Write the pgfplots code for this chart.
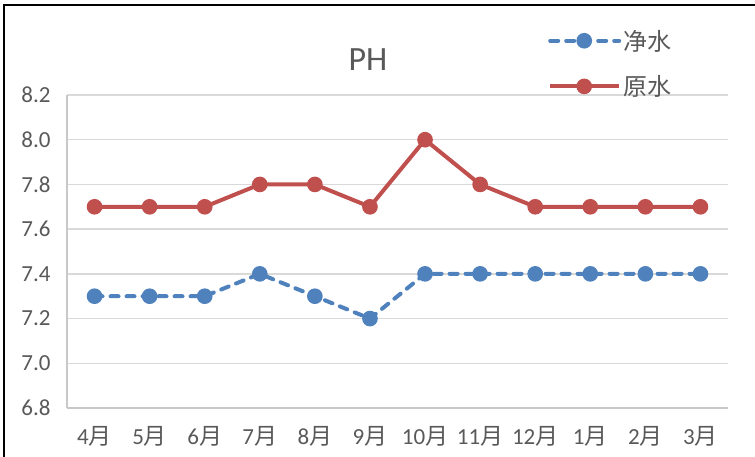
\documentclass[border=0pt]{standalone}
\usepackage{fontspec}
\setmainfont{Carlito}
\newfontfamily\cjk{Noto Sans CJK SC}
\usepackage{pgfplots}
\pgfplotsset{compat=1.18}
\definecolor{tc}{HTML}{595959}
\definecolor{gc}{HTML}{D9D9D9}
\definecolor{ac}{HTML}{C8C8C8}
\definecolor{bl}{HTML}{4F81BD}
\definecolor{rd}{HTML}{C0504D}
\begin{document}
\begin{tikzpicture}[x=1pt,y=1pt]
\useasboundingbox (0,0) rectangle (755,456);
\draw[line width=2pt] (4,-5) -- (4,451) -- (760,451);
\node[text=tc, font=\fontsize{34}{34}\selectfont] at (368,396) {PH};
\begin{axis}[
  at={(67pt,48pt)}, anchor=south west,
  scale only axis, width=661pt, height=313pt,
  xmin=-0.5, xmax=11.5, ymin=6.8, ymax=8.2,
  xtick={0,...,11},
  xticklabels={4{\cjk 月},5{\cjk 月},6{\cjk 月},7{\cjk 月},8{\cjk 月},9{\cjk 月},10{\cjk 月},11{\cjk 月},12{\cjk 月},1{\cjk 月},2{\cjk 月},3{\cjk 月}},
  ytick={6.8,7.0,7.2,7.4,7.6,7.8,8.0,8.2},
  yticklabel style={/pgf/number format/fixed, /pgf/number format/fixed zerofill, /pgf/number format/precision=1, /pgf/number format/assume math mode=true, xshift=-13pt},
  tick label style={font=\fontsize{23}{23}\selectfont, text=tc},
  xticklabel style={yshift=-15pt},
  major tick length=0pt,
  axis x line*=bottom, axis y line*=left,
  axis line style={-, draw=ac, line width=1.3pt},
  ymajorgrids, grid style={gc, line width=1.3pt},
  clip=false,
  legend cell align=left,
  legend style={draw=none, fill=none, at={(0.7277,1.215)}, anchor=north west,
    font=\fontsize{24}{24}\selectfont, text=tc, row sep=20pt, inner sep=0pt,
    /tikz/every even column/.append style={column sep=4pt}},
  legend image code/.code={\draw[mark repeat=2,mark phase=2] plot coordinates {(0pt,0pt) (34pt,0pt) (69pt,0pt)};},
]
\addplot[bl, line width=4pt, line cap=round, dash pattern=on 8pt off 8pt, mark=*, mark size=5.8pt, mark options={solid, fill=bl}]
  coordinates {(0,7.3) (1,7.3) (2,7.3) (3,7.4) (4,7.3) (5,7.2) (6,7.4) (7,7.4) (8,7.4) (9,7.4) (10,7.4) (11,7.4)};
\addlegendentry{{\cjk 净水}}
\addplot[rd, line width=4pt, mark=*, mark size=5.8pt, mark options={solid, fill=rd}]
  coordinates {(0,7.7) (1,7.7) (2,7.7) (3,7.8) (4,7.8) (5,7.7) (6,8.0) (7,7.8) (8,7.7) (9,7.7) (10,7.7) (11,7.7)};
\addlegendentry{{\cjk 原水}}
\end{axis}
\end{tikzpicture}
\end{document}
